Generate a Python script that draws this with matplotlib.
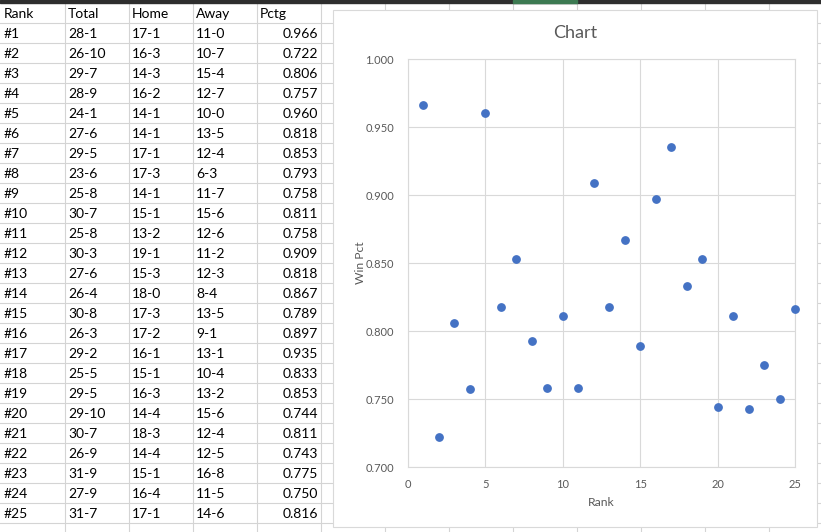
import matplotlib.pyplot as plt
from matplotlib.patches import Rectangle

plt.rcParams['font.family'] = ['Lato', 'DejaVu Sans']

# spreadsheet data
ranks = ['#%d' % i for i in range(1, 26)]
totals = ['28-1', '26-10', '29-7', '28-9', '24-1', '27-6', '29-5', '23-6', '25-8', '30-7',
          '25-8', '30-3', '27-6', '26-4', '30-8', '26-3', '29-2', '25-5', '29-5', '29-10',
          '30-7', '26-9', '31-9', '27-9', '31-7']
home = ['17-1', '16-3', '14-3', '16-2', '14-1', '14-1', '17-1', '17-3', '14-1', '15-1',
        '13-2', '19-1', '15-3', '18-0', '17-3', '17-2', '16-1', '15-1', '16-3', '14-4',
        '18-3', '14-4', '15-1', '16-4', '17-1']
away = ['11-0', '10-7', '15-4', '12-7', '10-0', '13-5', '12-4', '6-3', '11-7', '15-6',
        '12-6', '11-2', '12-3', '8-4', '13-5', '9-1', '13-1', '10-4', '13-2', '15-6',
        '12-4', '12-5', '16-8', '11-5', '14-6']
pctg = [0.966, 0.722, 0.806, 0.757, 0.960, 0.818, 0.853, 0.793, 0.758, 0.811,
        0.758, 0.909, 0.818, 0.867, 0.789, 0.897, 0.935, 0.833, 0.853, 0.744,
        0.811, 0.743, 0.775, 0.750, 0.816]
rank_num = list(range(1, 26))

W, H = 821, 532
fig = plt.figure(figsize=(W / 100, H / 100), dpi=100)

# sheet layer in pixel coordinates
sheet = fig.add_axes([0, 0, 1, 1])
sheet.set_xlim(0, W)
sheet.set_ylim(H, 0)
sheet.axis('off')

grid_c = '#d4d4d4'
col_x = [65, 129, 193, 257, 321, 385, 449, 513, 577, 641, 705, 769]
row_y = [22.7 + 20 * k for k in range(26)]
for x in col_x:
    sheet.plot([x, x], [0, H], color=grid_c, lw=0.8, zorder=1)
for y in row_y:
    sheet.plot([0, W], [y, y], color=grid_c, lw=0.8, zorder=1)

# dark header strip at the top
sheet.add_patch(Rectangle((0, 0), W, 2.5, color='#2e2e2e', zorder=2))
sheet.add_patch(Rectangle((513, 0), 64, 2.5, color='#3d7a52', zorder=3))

# table text
fs = 10
headers = ['Rank', 'Total', 'Home', 'Away', 'Pctg']
left_x = [4, 68, 132, 196, 260]
for j, h in enumerate(headers):
    sheet.text(left_x[j], 13.5, h, fontsize=fs, va='center', ha='left', zorder=4)
for i in range(25):
    yc = 33.5 + 20 * i
    sheet.text(4, yc, ranks[i], fontsize=fs, va='center', ha='left', zorder=4)
    sheet.text(68, yc, totals[i], fontsize=fs, va='center', ha='left', zorder=4)
    sheet.text(132, yc, home[i], fontsize=fs, va='center', ha='left', zorder=4)
    sheet.text(196, yc, away[i], fontsize=fs, va='center', ha='left', zorder=4)
    sheet.text(318, yc, '%.3f' % pctg[i], fontsize=fs, va='center', ha='right', zorder=4)

# chart box
sheet.add_patch(Rectangle((333, 10), 484, 517, facecolor='white', edgecolor='#d9d9d9',
                          lw=0.8, zorder=5))
txt_c = '#595959'
sheet.text(575, 33, 'Chart', fontsize=13, color=txt_c, ha='center', va='center', zorder=6)

# plot area
x0, x1, y0, y1 = 408, 795, 59, 467
ax = fig.add_axes([x0 / W, (H - y1) / H, (x1 - x0) / W, (y1 - y0) / H], zorder=6)
ax.patch.set_alpha(0)
ax.scatter(rank_num, pctg, s=28, color='#4472C4', zorder=3, clip_on=False)
ax.set_xlim(0, 25)
ax.set_ylim(0.7, 1.0)
ax.set_xticks(range(0, 26, 5))
ax.set_yticks([0.70, 0.75, 0.80, 0.85, 0.90, 0.95, 1.00])
ax.set_yticklabels(['%.3f' % v for v in ax.get_yticks()])
ax.grid(True, color='#d9d9d9', lw=0.8)
ax.set_axisbelow(True)
for s in ax.spines.values():
    s.set_color('#d9d9d9')
    s.set_linewidth(0.8)
ax.tick_params(length=0, labelsize=8, labelcolor=txt_c)
ax.tick_params(axis='y', pad=10)
ax.tick_params(axis='x', pad=9)
ax.set_xlabel('Rank', fontsize=8.7, color=txt_c)
ax.set_ylabel('Win Pct', fontsize=8.7, color=txt_c)
ax.xaxis.set_label_coords(0.5, (y1 - 503) / (y1 - y0), transform=ax.transAxes)
ax.yaxis.set_label_coords((360 - x0) / (x1 - x0), 0.5, transform=ax.transAxes)
ax.xaxis.label.set_va('center')
ax.yaxis.label.set_va('center')

fig.savefig('out.png', dpi=100)
